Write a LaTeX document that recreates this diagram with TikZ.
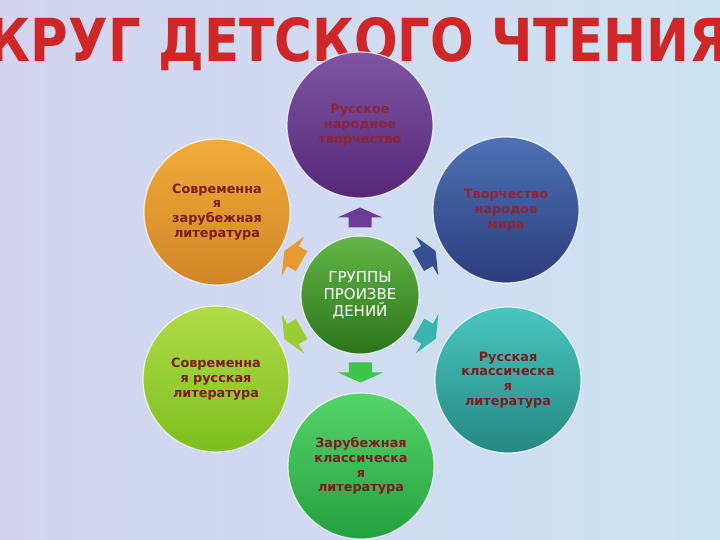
\documentclass[tikz,border=0pt]{standalone}
\usepackage{fontspec}
\usepackage{graphicx}
\setmainfont{DejaVu Sans}
\usetikzlibrary{calc}
\definecolor{bgA}{HTML}{D4D4EF}
\definecolor{bgB}{HTML}{CCE3F3}
\definecolor{titleRed}{HTML}{CF2727}
\definecolor{purTop}{HTML}{7D55A3}
\definecolor{purBot}{HTML}{552878}
\definecolor{bluTop}{HTML}{4D72B4}
\definecolor{bluBot}{HTML}{2C3C7C}
\definecolor{oraTop}{HTML}{F2AC3A}
\definecolor{oraBot}{HTML}{CF8526}
\definecolor{limTop}{HTML}{B0DC48}
\definecolor{limBot}{HTML}{7DBE1E}
\definecolor{tealTop}{HTML}{48C6BE}
\definecolor{tealBot}{HTML}{268882}
\definecolor{grnTop}{HTML}{55D468}
\definecolor{grnBot}{HTML}{25A040}
\definecolor{cenTop}{HTML}{62B646}
\definecolor{cenBot}{HTML}{2C741C}
\definecolor{txtRed}{HTML}{7E1C20}
\definecolor{txtPur}{HTML}{8E2438}
\definecolor{arrPur}{HTML}{6C3D94}
\definecolor{arrBlue}{HTML}{34508E}
\definecolor{arrTeal}{HTML}{3AB5AE}
\definecolor{arrGreen}{HTML}{3DC44A}
\definecolor{arrLime}{HTML}{9ACD32}
\definecolor{arrOrange}{HTML}{E89A2E}
\begin{document}
\begin{tikzpicture}[x=1pt,y=-1pt,
  bubble/.style={circle, inner sep=0pt, minimum size=146pt, align=center,
    draw=white, draw opacity=0.75, line width=1.2pt,
    font=\fontsize{12.8}{14.8}\selectfont\bfseries},
  hub/.style={circle, inner sep=0pt, minimum size=118pt, align=center,
    draw=white, draw opacity=0.75, line width=1.2pt,
    top color=cenTop, bottom color=cenBot, text=white,
    font=\fontsize{15}{17}\selectfont},
  blockarrow/.pic={\fill[#1] (-9.5,-11.5) -- (0.5,-11.5) -- (0.5,-22.5) -- (10.5,0)
      -- (0.5,22.5) -- (0.5,11.5) -- (-9.5,11.5) -- cycle;}
]
\clip (0,0) rectangle (720,540);
\shade[left color=bgA, right color=bgB] (0,0) rectangle (720,540);

% title
\node[anchor=base, inner sep=0pt, text=titleRed] (title) at (359,62)
  {\resizebox{740pt}{44pt}{\bfseries КРУГ ДЕТСКОГО ЧТЕНИЯ}};

% hub and outer circles
\node[hub] (c) at (360,295) {ГРУППЫ\\ПРОИЗВЕ\\ДЕНИЙ};
\node[bubble, top color=purTop, bottom color=purBot, text=txtPur] (t1) at (360,125)
  {Русское\\народное\\творчество};
\node[bubble, top color=bluTop, bottom color=bluBot, text=txtPur] (t2) at (506,210)
  {Творчество\\народов\\мира};
\node[bubble, top color=tealTop, bottom color=tealBot, text=txtRed] (t3) at (508,380)
  {Русская\\классическа\\я\\литература};
\node[bubble, top color=grnTop, bottom color=grnBot, text=txtRed] (t4) at (361,466)
  {Зарубежная\\классическа\\я\\литература};
\node[bubble, top color=limTop, bottom color=limBot, text=txtRed] (t5) at (216,379)
  {Современна\\я русская\\литература};
\node[bubble, top color=oraTop, bottom color=oraBot, text=txtRed] (t6) at (217,212)
  {Современна\\я\\зарубежная\\литература};

% block arrows from hub towards each circle
\foreach \t/\ang/\col in {t1/90/arrPur, t2/30/arrBlue, t3/-30/arrTeal,
                          t4/-90/arrGreen, t5/210/arrLime, t6/150/arrOrange}
  \pic[rotate=\ang] at ($(c)!77pt!(\t)$) {blockarrow=\col};
\end{tikzpicture}
\end{document}
